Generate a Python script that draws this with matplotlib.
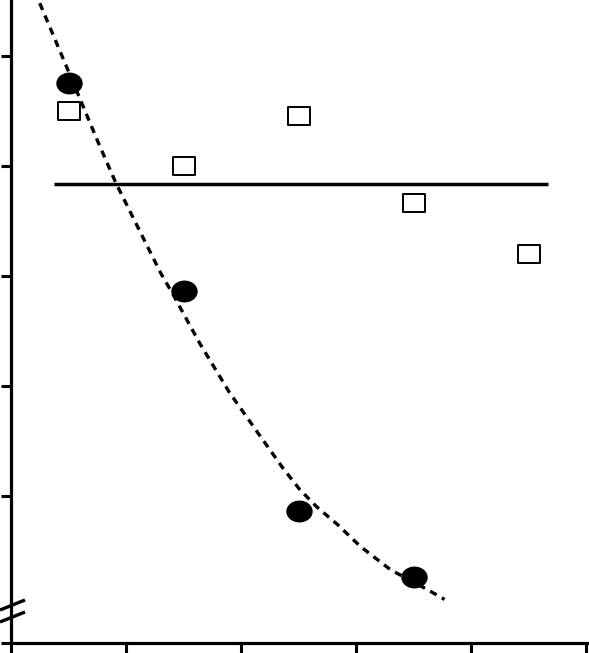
import numpy as np
import matplotlib
matplotlib.use("Agg")
import matplotlib.pyplot as plt
from matplotlib.path import Path
from matplotlib.markers import MarkerStyle
from matplotlib.transforms import Affine2D

# filled circles
circle_x = [0.5, 1.5, 2.5, 3.5]
circle_y = [4.75, 2.86, 0.86, 0.26]

# open squares
square_x = [0.5, 1.5, 2.5, 3.5, 4.5]
square_y = [4.50, 4.00, 4.45, 3.66, 3.20]

# flat reference line
flat_level = 3.84
flat_start = 0.37
flat_end = 4.67

# dashed trend curve
curve_x = [0.25, 0.50, 0.76, 0.91, 1.10, 1.30, 1.41, 1.64, 1.90, 2.17,
           2.36, 2.51, 2.66, 2.84, 3.04, 3.30, 3.62, 3.77]
curve_y = [5.48, 4.86, 4.21, 3.85, 3.45, 3.03, 2.83, 2.39, 1.94, 1.54,
           1.26, 1.06, 0.90, 0.74, 0.54, 0.33, 0.15, 0.06]

x_ticks = [0, 1, 2, 3, 4, 5]
y_ticks = [-0.336, 1, 2, 3, 4, 5]

# slightly flattened markers like the original
ellipse = MarkerStyle(Path.unit_circle().transformed(Affine2D().scale(1.0, 0.82)))
rect_path = Path([(-0.5, -0.4), (0.5, -0.4), (0.5, 0.4), (-0.5, 0.4), (-0.5, -0.4)],
                 [Path.MOVETO, Path.LINETO, Path.LINETO, Path.LINETO, Path.CLOSEPOLY])
rect = MarkerStyle(rect_path)

fig = plt.figure(figsize=(5.89, 6.53), dpi=100)
ax = fig.add_axes([11 / 589, 10 / 653, 578 / 589, 643 / 653])

ax.plot(curve_x, curve_y, color="black", lw=2.4, ls=(0, (2.2, 1.8)),
        dash_capstyle="butt", zorder=2)
ax.hlines(flat_level, flat_start, flat_end, color="black", lw=2.5, zorder=2)
ax.plot(square_x, square_y, ls="none", marker=rect, ms=15.5, mfc="white",
        mec="black", mew=1.4, zorder=3)
ax.plot(circle_x, circle_y, ls="none", marker=ellipse, ms=18, mfc="black",
        mec="black", zorder=4)

ax.set_xlim(0, 5.026)
ax.set_ylim(-0.336, 5.509)
ax.set_xticks(x_ticks)
ax.set_yticks(y_ticks)
ax.set_xticklabels([])
ax.set_yticklabels([])
ax.tick_params(direction="out", length=7.5, width=2.2, color="black")

for s in ["top", "right"]:
    ax.spines[s].set_visible(False)
for s in ["left", "bottom"]:
    ax.spines[s].set_linewidth(2.3)

# axis break marks on the y axis
for y0, y1 in [(0.0513, 0.0669), (0.0327, 0.0482)]:
    ax.plot([-0.019, 0.0242], [y0, y1], color="black", lw=2.4,
            transform=ax.transAxes, clip_on=False, solid_capstyle="butt")

fig.savefig("out.png", dpi=100)
